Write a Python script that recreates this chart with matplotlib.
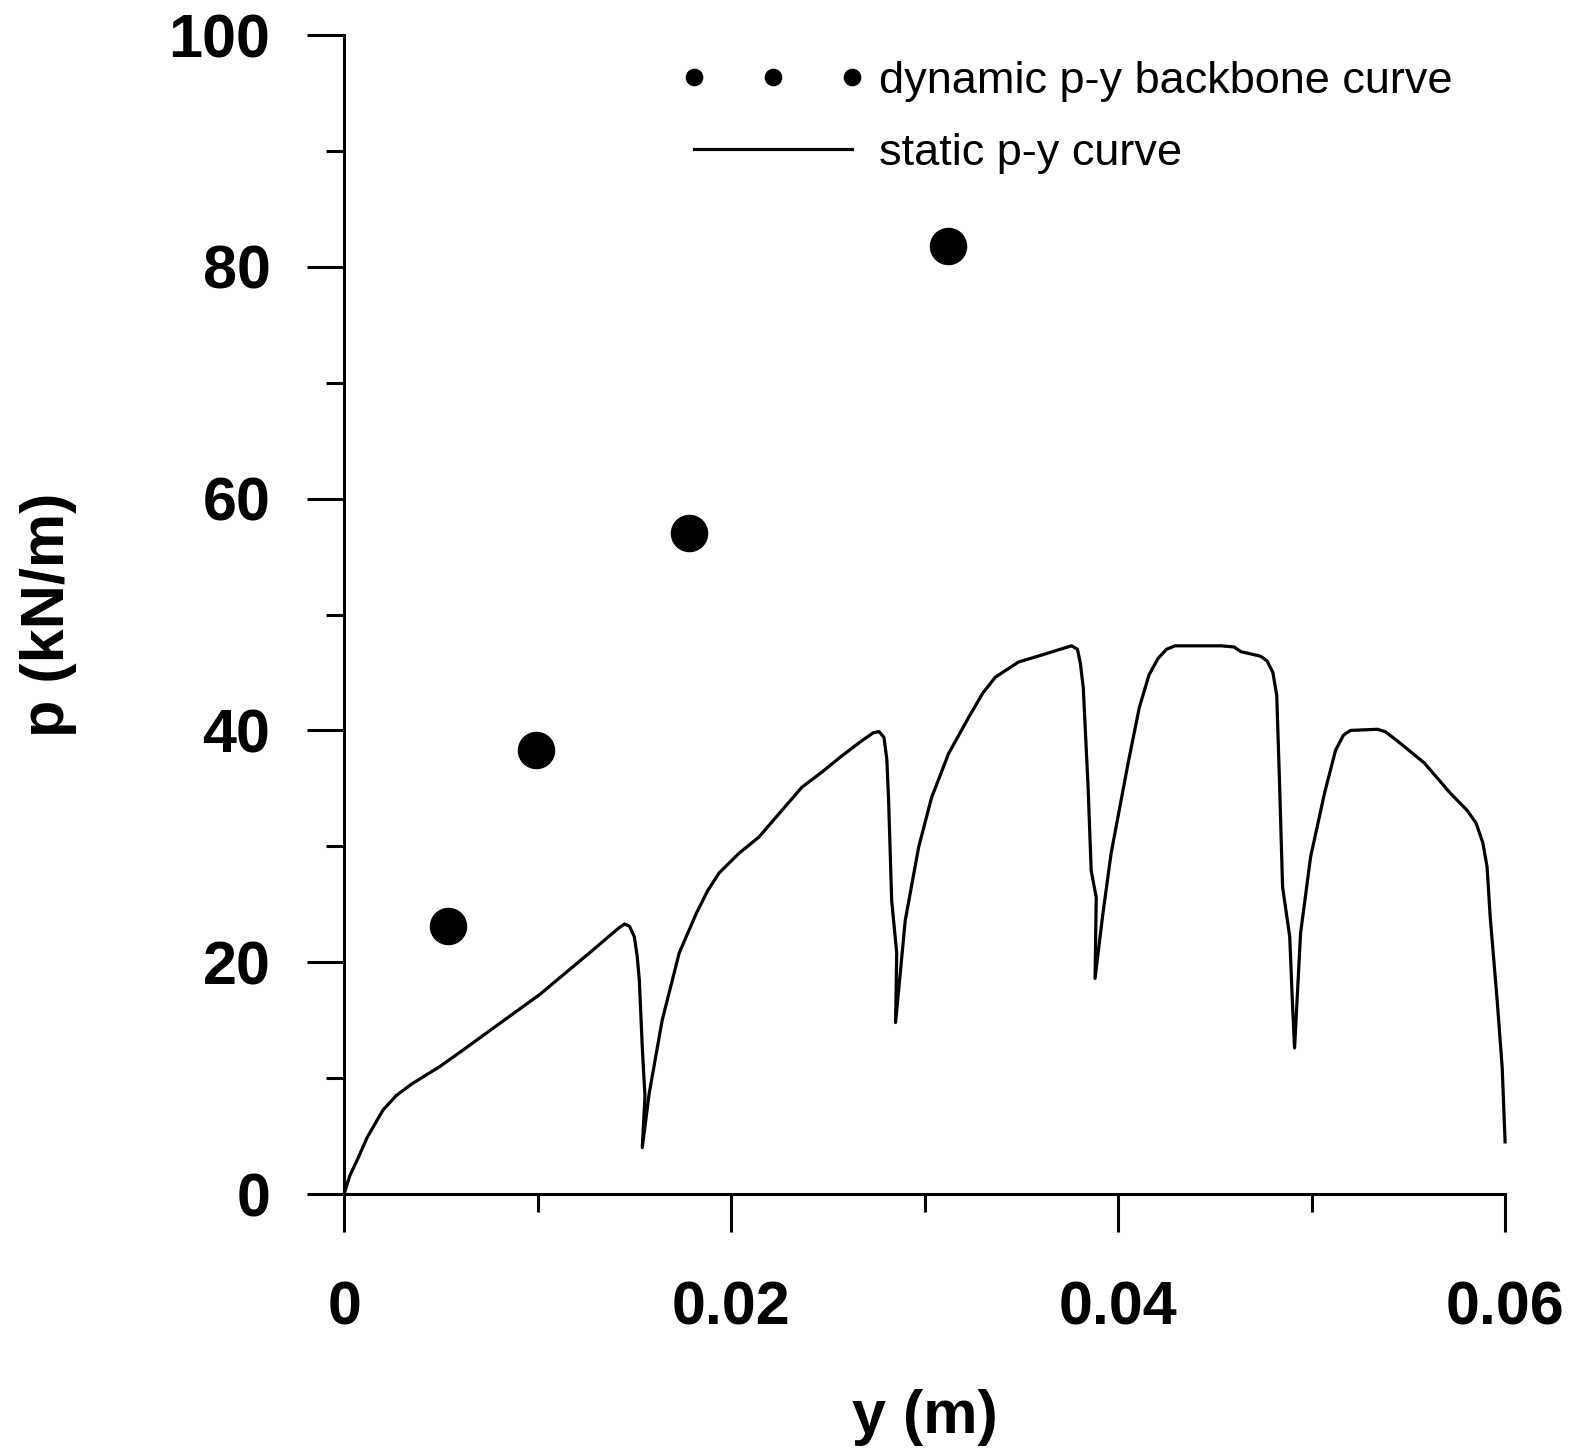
import matplotlib
matplotlib.use("Agg")
import matplotlib.pyplot as plt
from matplotlib.ticker import MultipleLocator

plt.rcParams['font.family'] = ['Liberation Sans', 'DejaVu Sans']

# dynamic p-y backbone points
dyn_y = [0.00536, 0.0099, 0.01784, 0.0312]
dyn_p = [23.1, 38.3, 57.0, 81.8]

# static p-y curve, traced
stat_y = [0.0, 0.0003, 0.00067, 0.0012, 0.00201, 0.0027, 0.0035, 0.00495, 0.00613,
          0.00753, 0.0101, 0.01268, 0.01423, 0.01450, 0.01475, 0.0150, 0.01515,
          0.01526, 0.01541, 0.01555, 0.01541,
          0.01577, 0.01644, 0.01732, 0.0182, 0.0188, 0.01938, 0.02041, 0.02144,
          0.02247, 0.02366, 0.02469, 0.02572, 0.02675, 0.02735, 0.02765, 0.02790,
          0.02805, 0.02814, 0.0283, 0.02856, 0.0285,
          0.0290, 0.02969, 0.03036, 0.03124, 0.03227, 0.0330, 0.03366, 0.03485,
          0.03624, 0.03720, 0.03760, 0.03790, 0.03805, 0.0382, 0.03845, 0.03861,
          0.03887, 0.03881,
          0.0392, 0.03964, 0.04052, 0.04110, 0.04160, 0.04206, 0.04250, 0.04294,
          0.04531, 0.04600, 0.04634, 0.04737, 0.04770, 0.04800, 0.04820, 0.04835,
          0.0485, 0.04887, 0.04902, 0.04912,
          0.04943, 0.04995, 0.05067, 0.05124, 0.05165, 0.05201, 0.0534, 0.05380,
          0.05443, 0.05582, 0.05716, 0.05804, 0.05850, 0.05885, 0.05907, 0.05923,
          0.05959, 0.05985, 0.0600]
stat_p = [0.0, 1.6, 2.9, 4.9, 7.24, 8.5, 9.5, 11.0, 12.4,
          14.1, 17.2, 20.8, 23.0, 23.3, 23.1, 22.2, 20.5,
          18.4, 12.7, 8.4, 4.0,
          8.7, 15.0, 20.8, 24.2, 26.2, 27.7, 29.4, 30.8,
          32.8, 35.1, 36.4, 37.8, 39.1, 39.8, 39.9, 39.4,
          37.5, 34.0, 25.3, 20.8, 14.8,
          23.6, 29.9, 34.2, 38.0, 41.1, 43.2, 44.6, 45.9,
          46.6, 47.1, 47.3, 47.0, 45.8, 43.7, 35.1, 27.9,
          25.6, 18.6,
          24.0, 29.4, 37.2, 42.0, 44.8, 46.2, 47.0, 47.3,
          47.3, 47.2, 46.8, 46.4, 46.0, 45.0, 43.0, 35.1,
          26.5, 22.2, 16.1, 12.6,
          22.5, 29.1, 34.6, 38.3, 39.6, 40.0, 40.1, 39.9,
          39.1, 37.2, 34.6, 33.1, 32.0, 30.3, 28.2, 23.9,
          16.7, 10.9, 4.5]

fig = plt.figure(figsize=(15.79, 14.48), dpi=100)
ax = fig.add_axes([0.2179, 0.1754, 0.7353, 0.8004])

ax.plot(dyn_y, dyn_p, 'o', color='black', markersize=26, linestyle='none',
        label='dynamic p-y backbone curve')
ax.plot(stat_y, stat_p, '-', color='black', linewidth=2.3, clip_on=False,
        label='static p-y curve')

ax.set_xlim(0, 0.06)
ax.set_ylim(0, 100)
ax.spines['top'].set_visible(False)
ax.spines['right'].set_visible(False)
for s in ['left', 'bottom']:
    ax.spines[s].set_linewidth(2.2)

ax.yaxis.set_major_locator(MultipleLocator(20))
ax.yaxis.set_minor_locator(MultipleLocator(10))
ax.xaxis.set_minor_locator(MultipleLocator(0.01))
ax.set_xticks([0, 0.02, 0.04, 0.06])
ax.set_xticklabels(['0', '0.02', '0.04', '0.06'])
ax.tick_params(which='major', length=27, width=2.2, direction='out')
ax.tick_params(which='minor', length=13, width=2.2, direction='out')
ax.tick_params(axis='x', which='major', pad=35, labelsize=44)
ax.tick_params(axis='y', which='major', pad=26, labelsize=44)
for lab in ax.get_xticklabels() + ax.get_yticklabels():
    lab.set_fontweight('bold')

ax.set_xlabel('y (m)', fontsize=44, fontweight='bold', labelpad=37)
ax.set_ylabel('p (kN/m)', fontsize=44, fontweight='bold', labelpad=66)

ax.legend(loc='upper left', bbox_to_anchor=(0.2897, 0.978), frameon=False,
          numpoints=3, markerscale=0.45, fontsize=32.5, handlelength=4.1,
          handletextpad=0.3, labelspacing=0.7, borderpad=0, borderaxespad=0)

fig.savefig('out.png', dpi=100)
